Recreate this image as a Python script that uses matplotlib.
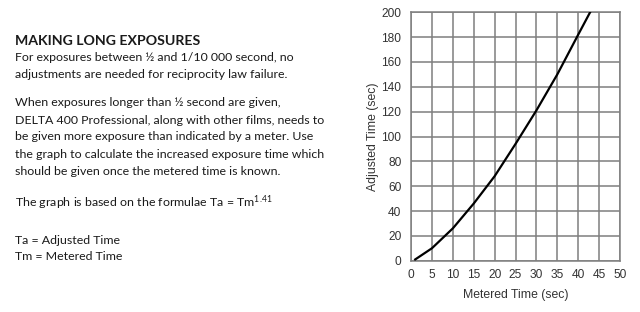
import matplotlib
matplotlib.use("Agg")
import matplotlib.pyplot as plt

# Data
metered = [1, 5, 10, 15, 20, 25, 30, 35, 40, 43]
adjusted = [1, 10, 26, 46, 68, 94, 121, 150, 182, 201]
x_ticks = [0, 5, 10, 15, 20, 25, 30, 35, 40, 45, 50]
y_ticks = [0, 20, 40, 60, 80, 100, 120, 140, 160, 180, 200]

title = "MAKING LONG EXPOSURES"
body_lines = [
    ("For exposures between \u00bd and 1/10 000 second, no", 57.5),
    ("adjustments are needed for reciprocity law failure.", 74),
    ("When exposures longer than \u00bd second are given,", 103),
    ("DELTA 400 Professional, along with other films, needs to", 120),
    ("be given more exposure than indicated by a meter. Use", 137),
    ("the graph to calculate the increased exposure time which", 154.5),
    ("should be given once the metered time is known.", 171.5),
    ("The graph is based on the formulae Ta = Tm$\\mathregular{^{1.41}}$", 203),
    ("Ta = Adjusted Time", 240),
    ("Tm = Metered Time", 257),
]

W, H = 640, 312
plt.rcParams['mathtext.fontset'] = 'custom'
plt.rcParams['mathtext.rm'] = 'Lato'

fig = plt.figure(figsize=(W / 100, H / 100), dpi=100)
fig.patch.set_facecolor("white")

# left text block
fig.text(15 / W, 1 - 41 / H, title, fontsize=10.2, fontweight='bold',
         family='Lato', color='#1a1a1a', va='center', ha='left')
for txt, y in body_lines:
    fig.text(15 / W, 1 - y / H, txt, fontsize=8.95, family='Lato',
             color='#1a1a1a', va='center', ha='left')

# chart
ax = fig.add_axes([411 / W, 1 - 260.7 / H, (620 - 411) / W, (260.7 - 12.3) / H])
ax.plot(metered, adjusted, color='black', lw=1.6, clip_on=True, zorder=3)
ax.set_xlim(0, 50)
ax.set_ylim(0, 200)
ax.set_xticks(x_ticks)
ax.set_yticks(y_ticks)
ax.grid(True, color='#7f7f7f', lw=1.1)
ax.set_axisbelow(True)
for s in ax.spines.values():
    s.set_color('#7f7f7f')
    s.set_linewidth(1.1)
ax.tick_params(length=0, labelsize=8.6, colors='#333333')
ax.tick_params(axis='y', pad=7)
ax.tick_params(axis='x', pad=6)
for lab in ax.get_xticklabels() + ax.get_yticklabels():
    lab.set_family('Liberation Sans')
ax.set_xlabel("Metered Time (sec)", fontsize=8.8, family='Liberation Sans',
              color='#333333', labelpad=6)
ax.set_ylabel("Adjusted Time (sec)", fontsize=8.8, family='Liberation Sans',
              color='#333333', labelpad=2)

fig.savefig("out.png", dpi=100, facecolor='white')
